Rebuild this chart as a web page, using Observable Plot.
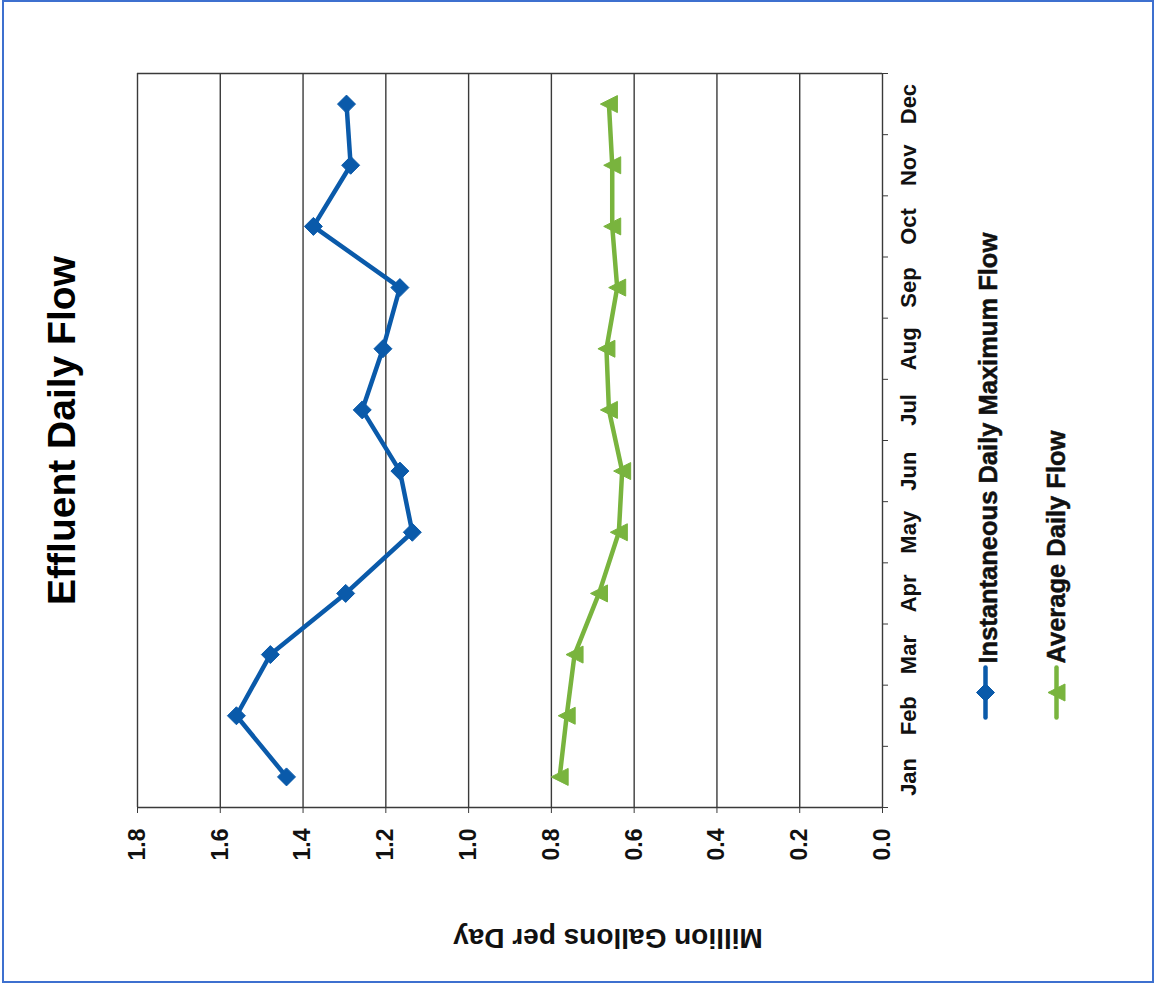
<!DOCTYPE html>
<html>
<head>
<meta charset="utf-8">
<script src="https://cdn.jsdelivr.net/npm/d3@7"></script>
<script src="https://cdn.jsdelivr.net/npm/@observablehq/plot@0.6"></script>
<style>
  html, body { margin: 0; padding: 0; background: white; overflow: hidden; }
  #wrap { position: relative; width: 1156px; height: 985px; }
  #border { position: absolute; left: 2px; top: 0px; width: 1152px; height: 983px;
            border: 2px solid #3d70cf; box-sizing: border-box; pointer-events: none; }
  .legend-text text { font-weight: bold; }
</style>
</head>
<body>
<div id="wrap"><div id="border"></div></div>
<script>
const title = "Effluent Daily Flow";
const axisTitle = "Million Gallons per Day";
const months = ["Jan","Feb","Mar","Apr","May","Jun","Jul","Aug","Sep","Oct","Nov","Dec"];
const seriesNames = ["Instantaneous Daily Maximum Flow", "Average Daily Flow"];
const maxFlow = [1.440, 1.561, 1.479, 1.297, 1.136, 1.166, 1.257, 1.207, 1.166, 1.375, 1.285, 1.295];
const avgFlow = [0.780, 0.763, 0.744, 0.685, 0.637, 0.629, 0.661, 0.667, 0.641, 0.653, 0.653, 0.661];
const valueTicks = [0, 0.2, 0.4, 0.6, 0.8, 1.0, 1.2, 1.4, 1.6, 1.8];
const monthBoundaries = [0.5, 1.5, 2.5, 3.5, 4.5, 5.5, 6.5, 7.5, 8.5, 9.5, 10.5, 11.5, 12.5];

const blue = "#0a5aaa";
const green = "#79b43e";
const gridColor = "#3a3a3a";

const maxRows = months.map((m, i) => ({month: i + 1, value: maxFlow[i]}));
const avgRows = months.map((m, i) => ({month: i + 1, value: avgFlow[i]}));

// Excel-like markers (chart is turned a quarter turn)
const diamond = {draw(ctx, size) { const r = Math.sqrt(size / Math.PI);
  ctx.moveTo(0, -r); ctx.lineTo(r, 0); ctx.lineTo(0, r); ctx.lineTo(-r, 0); ctx.closePath(); }};
const triangleLeft = {draw(ctx, size) { const r = Math.sqrt(size / Math.PI);
  ctx.moveTo(-r, 0); ctx.lineTo(r, -r); ctx.lineTo(r, r); ctx.closePath(); }};
const vline = {draw(ctx, size) { const r = Math.sqrt(size / Math.PI);
  ctx.moveTo(0, -r); ctx.lineTo(0, r); }};

const font = "'Liberation Sans', Arial, sans-serif";

const chart = Plot.plot({
  width: 1156,
  height: 985,
  marginLeft: 137,
  marginRight: 274,
  marginTop: 73,
  marginBottom: 178,
  x: {domain: [0, 1.8], reverse: true},
  y: {domain: [0.5, 12.5]},
  style: {fontFamily: font, background: "white"},
  marks: [
    Plot.ruleX(valueTicks, {stroke: gridColor, strokeWidth: 1.4}),
    Plot.ruleY([12.5], {stroke: gridColor, strokeWidth: 1.4}),
    Plot.ruleY([0.5], {stroke: gridColor, strokeWidth: 1.4}),
    Plot.axisX(valueTicks, {
      anchor: "bottom", tickSize: 6, tickPadding: 15, tickRotate: -90,
      tickFormat: d3.format(".1f"), label: null, stroke: gridColor,
      fontSize: 23, fontWeight: "bold", fill: "#111"
    }),
    Plot.axisY(monthBoundaries, {
      anchor: "right", tickSize: 5, tickFormat: () => "", label: null, stroke: gridColor
    }),
    Plot.text(months, {
      y: (d, i) => i + 1, text: d => d, frameAnchor: "right", dx: 18,
      rotate: -90, textAnchor: "middle", lineAnchor: "top",
      fontSize: 22, fontWeight: "bold", fill: "#111"
    }),
    // series
    Plot.line(maxRows, {x: "value", y: "month", stroke: blue, strokeWidth: 4.5}),
    Plot.dot(maxRows, {x: "value", y: "month", symbol: diamond, r: 9, fill: blue, stroke: blue, strokeWidth: 1}),
    Plot.line(avgRows, {x: "value", y: "month", stroke: green, strokeWidth: 4.5}),
    Plot.dot(avgRows, {x: "value", y: "month", symbol: triangleLeft, r: 8.5, fill: green, stroke: green, strokeWidth: 1}),
    // title
    Plot.text([title], {
      frameAnchor: "left", dx: -75, dy: -10, rotate: -90,
      textAnchor: "middle", lineAnchor: "middle",
      fontSize: 39, fontWeight: "bold", fill: "#000"
    }),
    // value axis title (upside down)
    Plot.text([axisTitle], {
      frameAnchor: "bottom", dx: 98, dy: 130, rotate: 180,
      textAnchor: "middle", lineAnchor: "middle",
      fontSize: 28, fontWeight: "bold", fill: "#111"
    }),
    // legend
    Plot.dot([seriesNames[0]], {frameAnchor: "bottom-right", dx: 103, dy: -115, symbol: vline, r: 25,
      fill: "none", stroke: blue, strokeWidth: 4.5, strokeLinecap: "round"}),
    Plot.dot([seriesNames[0]], {frameAnchor: "bottom-right", dx: 103, dy: -115, symbol: diamond, r: 9,
      fill: blue, stroke: blue, strokeWidth: 1}),
    Plot.text([seriesNames[0]], {
      frameAnchor: "bottom-right", dx: 96, dy: -144, rotate: -90,
      textAnchor: "start", lineAnchor: "top", className: "legend-text",
      fontSize: 25.5, fontWeight: "bold", fill: "#111", stroke: "#111", strokeWidth: 0.5
    }),
    Plot.dot([seriesNames[1]], {frameAnchor: "bottom-right", dx: 174, dy: -115, symbol: vline, r: 25,
      fill: "none", stroke: green, strokeWidth: 4.5, strokeLinecap: "round"}),
    Plot.dot([seriesNames[1]], {frameAnchor: "bottom-right", dx: 174, dy: -115, symbol: triangleLeft, r: 8.5,
      fill: green, stroke: green, strokeWidth: 1}),
    Plot.text([seriesNames[1]], {
      frameAnchor: "bottom-right", dx: 164, dy: -144, rotate: -90,
      textAnchor: "start", lineAnchor: "top", className: "legend-text",
      fontSize: 25.5, fontWeight: "bold", fill: "#111", stroke: "#111", strokeWidth: 0.5
    })
  ]
});
document.getElementById("wrap").prepend(chart);
</script>
</body>
</html>
